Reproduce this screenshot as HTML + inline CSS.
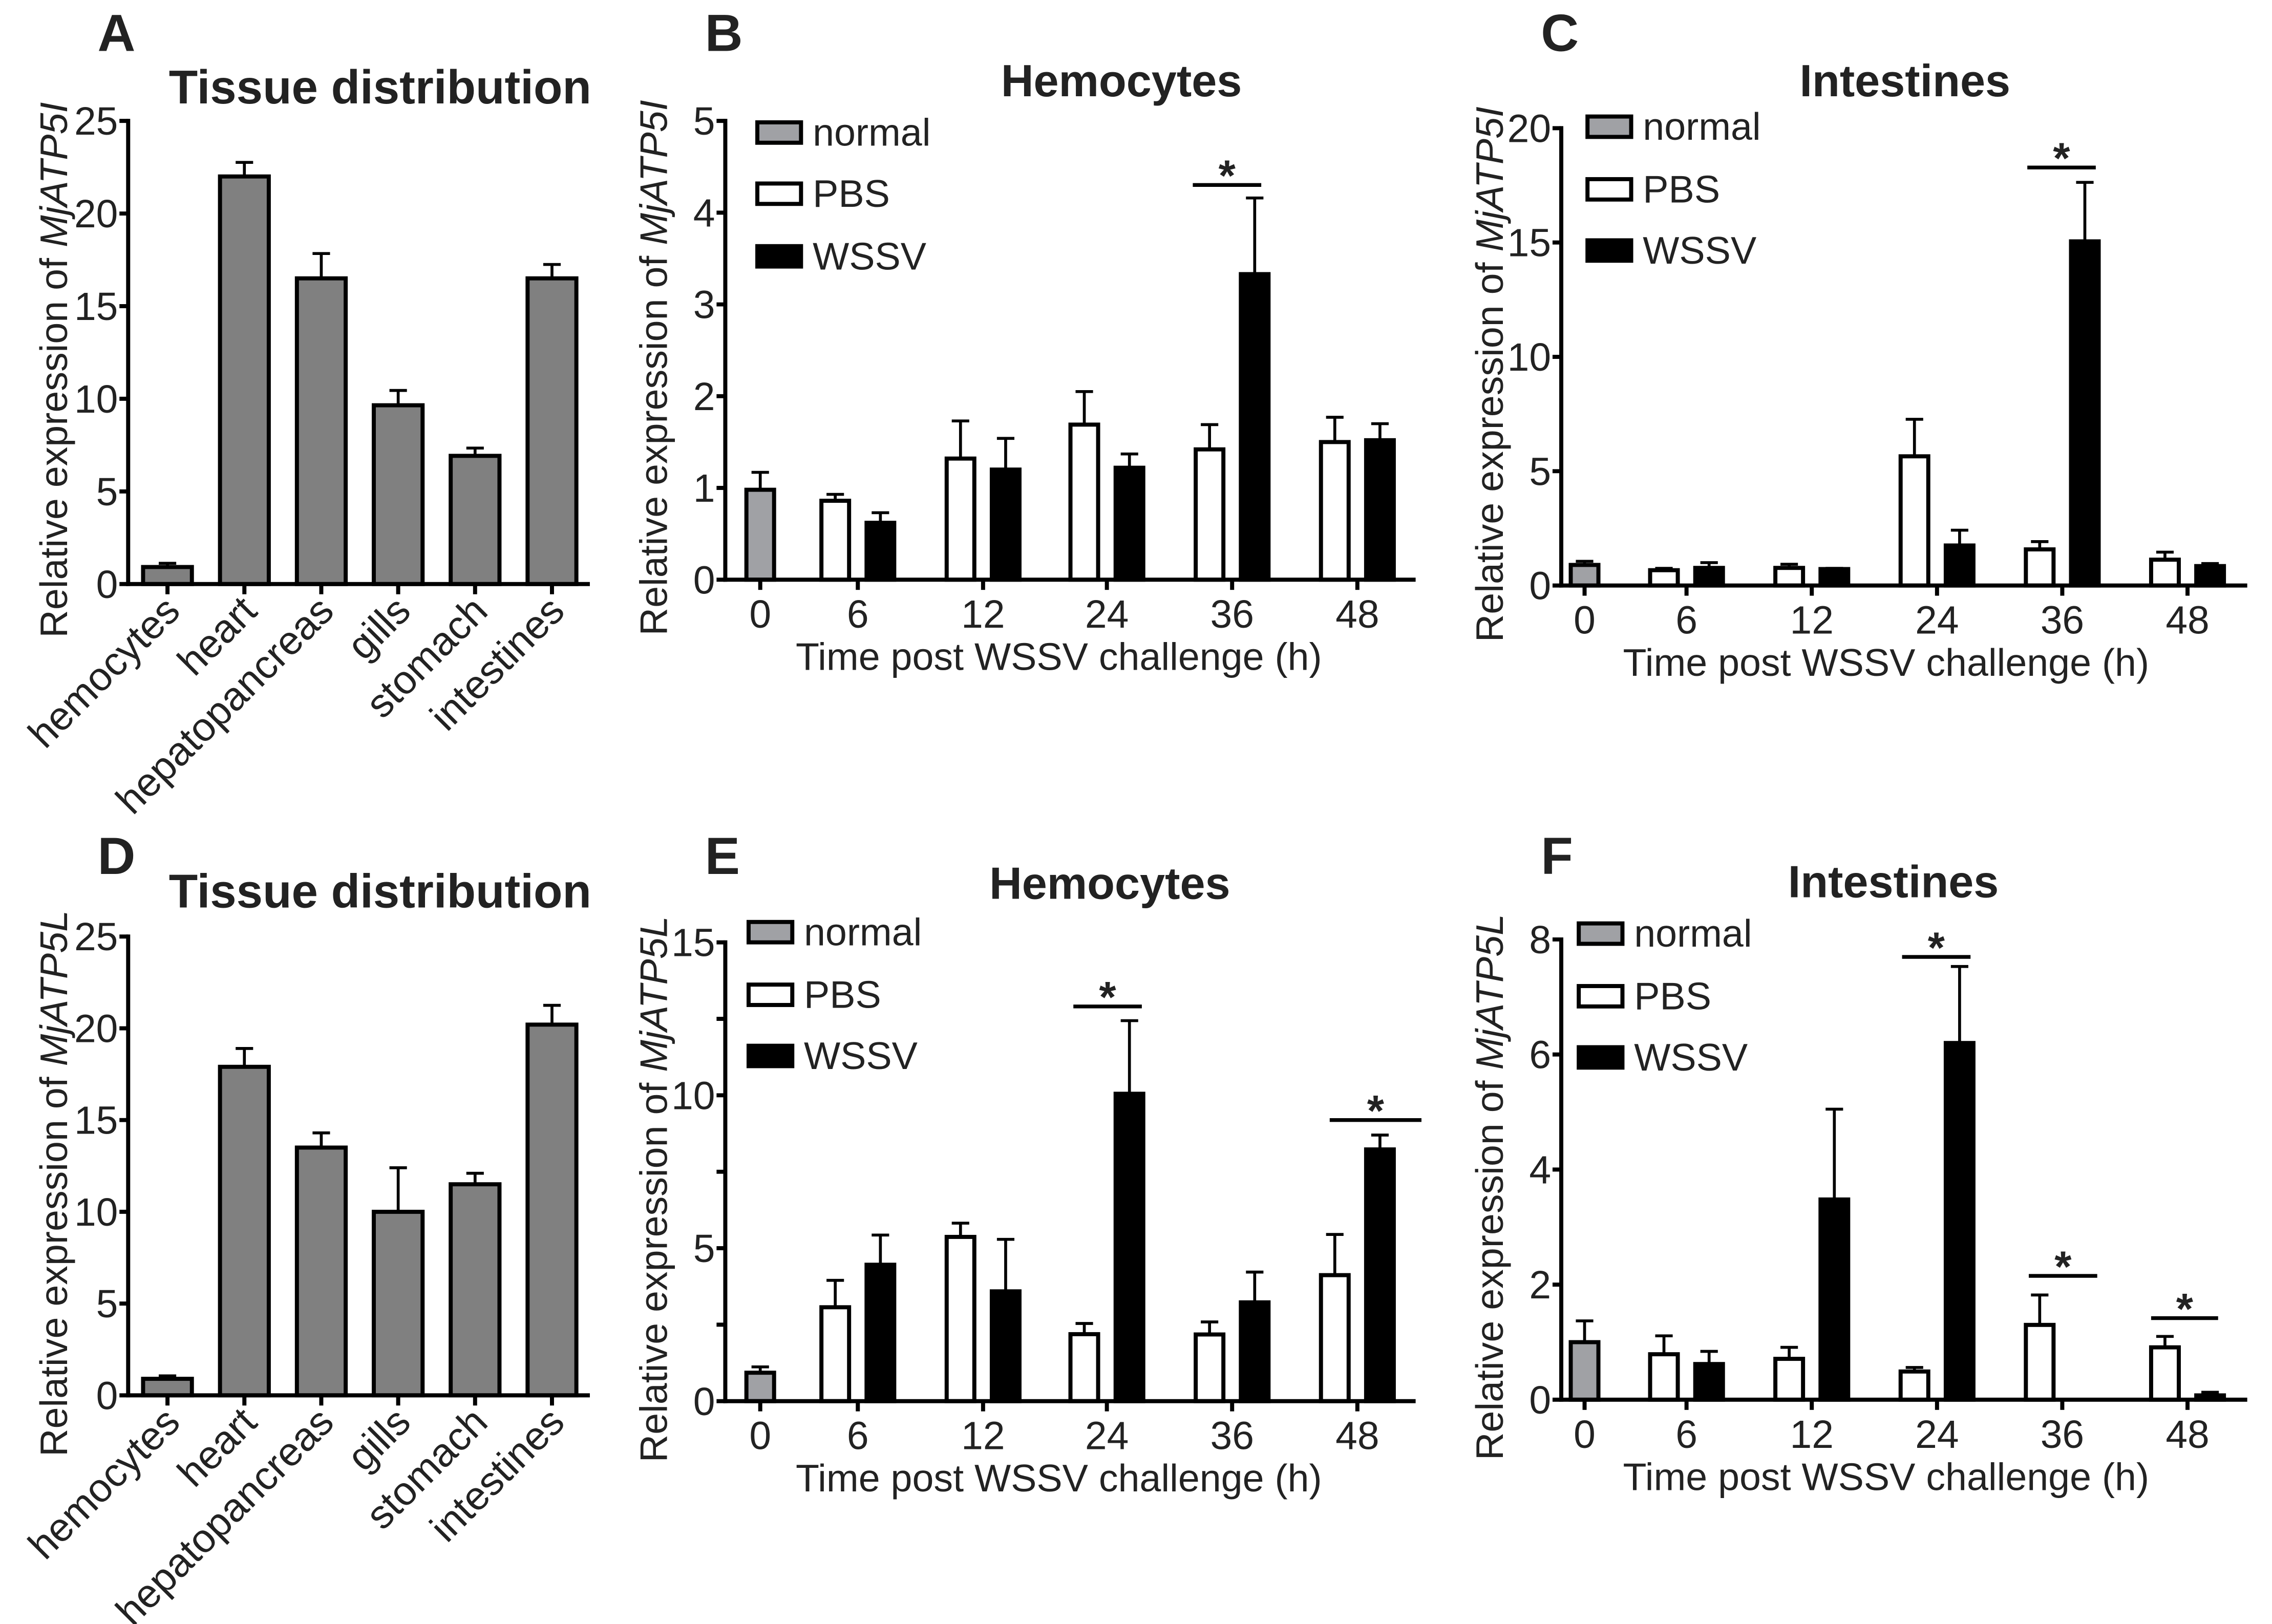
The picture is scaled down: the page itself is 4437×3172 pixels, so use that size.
<!DOCTYPE html>
<html><head><meta charset="utf-8"><style>
html,body{margin:0;padding:0;background:#fff;}
svg{display:block;font-family:"Liberation Sans",Arial,sans-serif;}
</style></head><body>
<svg id="fig" xmlns="http://www.w3.org/2000/svg" width="4437" height="3172" viewBox="0 0 1560 1115" preserveAspectRatio="none">
<rect x="0" y="0" width="1560" height="1115" fill="#ffffff"/>
</svg>
<script>
// ---------- data ----------
const tissueCats = ["hemocytes","heart","hepatopancreas","gills","stomach","intestines"];
const timeLabels = ["0","6","12","24","36","48"];
const seriesNames = ["normal","PBS","WSSV"];

const aValues = [0.92, 22.0, 16.5, 9.65, 6.92, 16.5];
const aErrors = [0.2, 0.76, 1.34, 0.8, 0.42, 0.75];
const dValues = [0.9, 17.9, 13.5, 10.0, 11.5, 20.2];
const dErrors = [0.16, 1.0, 0.8, 2.4, 0.6, 1.05];
const tissueTicks = [0, 5, 10, 15, 20, 25];

const bNormal = [0.98]; const bNormalErr = [0.19];
const bPBS = [0.86, 1.32, 1.69, 1.42, 1.5];
const bPBSErr = [0.07, 0.41, 0.36, 0.27, 0.27];
const bWSSV = [0.62, 1.2, 1.22, 3.33, 1.52];
const bWSSVErr = [0.11, 0.34, 0.15, 0.83, 0.18];
const bTicks = [0, 1, 2, 3, 4, 5];

const cNormal = [0.9]; const cNormalErr = [0.16];
const cPBS = [0.67, 0.77, 5.65, 1.58, 1.13];
const cPBSErr = [0.08, 0.16, 1.62, 0.34, 0.33];
const cWSSV = [0.77, 0.72, 1.75, 15.05, 0.85];
const cWSSVErr = [0.23, 0.03, 0.67, 2.58, 0.11];
const cTicks = [0, 5, 10, 15, 20];

const eNormal = [0.93]; const eNormalErr = [0.19];
const ePBS = [3.07, 5.37, 2.19, 2.18, 4.12];
const ePBSErr = [0.88, 0.45, 0.35, 0.41, 1.33];
const eWSSV = [4.46, 3.59, 10.05, 3.23, 8.23];
const eWSSVErr = [0.97, 1.7, 2.39, 0.99, 0.47];
const eTicks = [0, 5, 10, 15];
const eMinor = [2.5, 7.5, 12.5];

const fNormal = [1.0]; const fNormalErr = [0.37];
const fPBS = [0.79, 0.71, 0.49, 1.3, 0.91];
const fPBSErr = [0.32, 0.2, 0.07, 0.52, 0.19];
const fWSSV = [0.62, 3.48, 6.2, 0.0, 0.075];
const fWSSVErr = [0.22, 1.57, 1.33, 0.0, 0.055];
const fTicks = [0, 2, 4, 6, 8];

// ---------- helpers ----------
const NS = "http://www.w3.org/2000/svg";
const svg = document.getElementById("fig");
function mk(tag, attrs, parent, text) {
  const el = document.createElementNS(NS, tag);
  for (const k in attrs) el.setAttribute(k, attrs[k]);
  if (text !== undefined) el.textContent = text;
  (parent || svg).appendChild(el);
  return el;
}
function linScale(d0, d1, r0, r1) { return v => r0 + (v - d0) * (r1 - r0) / (d1 - d0); }

function yAxis(g, ax, y, ticks, minor) {
  const line = mk("line", {x1: ax, y1: y(ticks[ticks.length-1]) - 1.4, x2: ax, y2: y(0) + 1.4, stroke: "#000", "stroke-width": 2.8}, g);
  
  
  ticks.forEach(t => {
    const tk = mk("line", {x1: ax - 6, y1: y(t), x2: ax, y2: y(t), stroke: "#000", "stroke-width": 2.8}, g);
    
    
    const lb = mk("text", {x: ax - 7, y: y(t) + 9.5, "text-anchor": "end", "font-size": 27, fill: "#222"}, g, String(t));
    
    
  });
  (minor || []).forEach(t => {
    const tk = mk("line", {x1: ax - 6, y1: y(t), x2: ax, y2: y(t), stroke: "#000", "stroke-width": 2.8}, g);
    
    
  });
}
function yLabel(g, x, cy, gene) {
  const t = mk("text", {x: 0, y: 0, "text-anchor": "middle", "font-size": 26.5, fill: "#222", transform: `translate(${x},${cy}) rotate(-90)`}, g);
  
  
  mk("tspan", {}, t, "Relative expression of ");
  mk("tspan", {"font-style": "italic"}, t, gene);
}
function bar(g, cx, w, y, v, e, fill, name) {
  const r = mk("rect", {x: cx - w/2, y: y(v), width: w, height: Math.max(0, y(0) - y(v)), fill: fill, stroke: "#000", "stroke-width": 2.8}, g);
  
  
  if (e > 0) {
    const eb = mk("path", {d: `M${cx},${y(v)} V${y(v+e)} M${cx-6},${y(v+e)} H${cx+6}`, stroke: "#000", "stroke-width": 2, fill: "none"}, g);
    
    
  }
}
function txt(g, x, y, s, size, weight, anchor, name) {
  const t = mk("text", {x: x, y: y, "font-size": size, "font-weight": weight, "text-anchor": anchor, fill: "#222"}, g, s);
  
  
  return t;
}

// ---------- tissue panels ----------
function tissuePanel(id, letter, gene, vals, errs, top, zero, titleY, letterY) {
  const g = mk("g", {});
  
  
  const ax = 88, axEnd = 405;
  const y = linScale(0, 25, zero, top);
  const cx0 = 115, step = 52.8, bw = 33.5;
  txt(g, 67, letterY, letter, 36, "bold", "start", "panel-letter");
  txt(g, 261, titleY, "Tissue distribution", 32.5, "bold", "middle", "panel-title");
  yLabel(g, 46, (top + zero) / 2 + 12, gene);
  vals.forEach((v, i) => bar(g, cx0 + i * step, bw, y, v, errs[i], "#808080", "bar-" + tissueCats[i]));
  yAxis(g, ax, y, tissueTicks);
  const xl = mk("line", {x1: ax - 1.4, y1: zero, x2: axEnd, y2: zero, stroke: "#000", "stroke-width": 2.8}, g);
  
  
  tissueCats.forEach((c, i) => {
    const cx = cx0 + i * step;
    const tk = mk("line", {x1: cx, y1: zero, x2: cx, y2: zero + 7, stroke: "#000", "stroke-width": 2.8}, g);
    
    
    const t = mk("text", {x: 0, y: 0, "text-anchor": "end", "font-size": 27.5, fill: "#222", transform: `translate(${cx + 10},${zero + 20}) rotate(-45)`}, g, c);
    
    
  });
}
tissuePanel("a", "A", "MjATP5I", aValues, aErrors, 83, 401, 71, 35);
tissuePanel("d", "D", "MjATP5L", dValues, dErrors, 643, 958, 623, 600);

// ---------- time panels ----------
function timePanel(cfg) {
  const g = mk("g", {});
  
  
  const y = linScale(0, cfg.max, cfg.zero, cfg.top);
  const bw = 19, off = 15.5;
  txt(g, cfg.ax - 14, cfg.letterY, cfg.letter, 36, "bold", "start", "panel-letter");
  txt(g, cfg.titleX, cfg.titleY, cfg.title, 31, "bold", "middle", "panel-title");
  yLabel(g, cfg.ax - 40, (cfg.top + cfg.zero) / 2 + 12, cfg.gene);
  bar(g, cfg.ticks[0], bw, y, cfg.normal[0], cfg.normalErr[0], "#a0a1a5", "bar-normal-0h");
  cfg.pbs.forEach((v, i) => bar(g, cfg.ticks[i+1] - off, bw, y, v, cfg.pbsErr[i], "#ffffff", "bar-pbs-" + timeLabels[i+1] + "h"));
  cfg.wssv.forEach((v, i) => { if (v > 0) bar(g, cfg.ticks[i+1] + off, bw, y, v, cfg.wssvErr[i], "#000000", "bar-wssv-" + timeLabels[i+1] + "h"); });
  yAxis(g, cfg.ax, y, cfg.yticks, cfg.minor);
  const xl = mk("line", {x1: cfg.ax - 1.4, y1: cfg.zero, x2: cfg.axEnd, y2: cfg.zero, stroke: "#000", "stroke-width": 2.8}, g);
  
  
  timeLabels.forEach((lbl, i) => {
    const cx = cfg.ticks[i];
    const tk = mk("line", {x1: cx, y1: cfg.zero, x2: cx, y2: cfg.zero + 7, stroke: "#000", "stroke-width": 2.8}, g);
    
    
    txt(g, cx, cfg.zero + 33, lbl, 27, "normal", "middle", "x-tick-label");
  });
  txt(g, (cfg.ticks[0] + cfg.ticks[5]) / 2, cfg.zero + 62, "Time post WSSV challenge (h)", 26.5, "normal", "middle", "x-axis-title");
  const fills = ["#a0a1a5", "#ffffff", "#000000"];
  seriesNames.forEach((n, i) => {
    const ly = cfg.legY[i];
    const r = mk("rect", {x: cfg.legX, y: ly - 7, width: 30, height: 14, fill: fills[i], stroke: "#000", "stroke-width": 2.8}, g);
    
    
    const t = txt(g, cfg.legX + 38, ly + 9, n, 26.5, "normal", "start", "legend-entry-" + n.toLowerCase());
    
  });
  cfg.sig.forEach(s => {
    const l = mk("line", {x1: s[0], y1: s[2], x2: s[1], y2: s[2], stroke: "#000", "stroke-width": 2.6}, g);
    
    
    txt(g, (s[0] + s[1]) / 2, s[2] + 4, "*", 30, "bold", "middle", "significance-star");
  });
}
timePanel({id:"b", letter:"B", title:"Hemocytes", titleX:770, titleY:66, letterY:35, gene:"MjATP5I", ax:498, axEnd:972, top:83, zero:398, max:5,
  yticks:bTicks, ticks:[522,589,675,760,846,932], normal:bNormal, normalErr:bNormalErr, pbs:bPBS, pbsErr:bPBSErr, wssv:bWSSV, wssvErr:bWSSVErr,
  legX:520, legY:[91,133,176], sig:[[819,866,127]]});
timePanel({id:"c", letter:"C", title:"Intestines", titleX:1308, titleY:66, letterY:35, gene:"MjATP5I", ax:1072, axEnd:1543, top:88, zero:402, max:20,
  yticks:cTicks, ticks:[1088,1158,1244,1330,1416,1502], normal:cNormal, normalErr:cNormalErr, pbs:cPBS, pbsErr:cPBSErr, wssv:cWSSV, wssvErr:cWSSVErr,
  legX:1090, legY:[87,130,172], sig:[[1392,1439,115]]});
timePanel({id:"e", letter:"E", title:"Hemocytes", titleX:762, titleY:617, letterY:600, gene:"MjATP5L", ax:498, axEnd:972, top:647, zero:962, max:15,
  yticks:eTicks, minor:eMinor, ticks:[522,589,675,760,846,932], normal:eNormal, normalErr:eNormalErr, pbs:ePBS, pbsErr:ePBSErr, wssv:eWSSV, wssvErr:eWSSVErr,
  legX:514, legY:[640,683,725], sig:[[737,784,691],[913,976,769]]});
timePanel({id:"f", letter:"F", title:"Intestines", titleX:1300, titleY:616, letterY:600, gene:"MjATP5L", ax:1072, axEnd:1543, top:645, zero:961, max:8,
  yticks:fTicks, ticks:[1088,1158,1244,1330,1416,1502], normal:fNormal, normalErr:fNormalErr, pbs:fPBS, pbsErr:fPBSErr, wssv:fWSSV, wssvErr:fWSSVErr,
  legX:1084, legY:[641,684,726], sig:[[1306,1353,657],[1393,1440,876],[1477,1523,905]]});
</script>
</body></html>
